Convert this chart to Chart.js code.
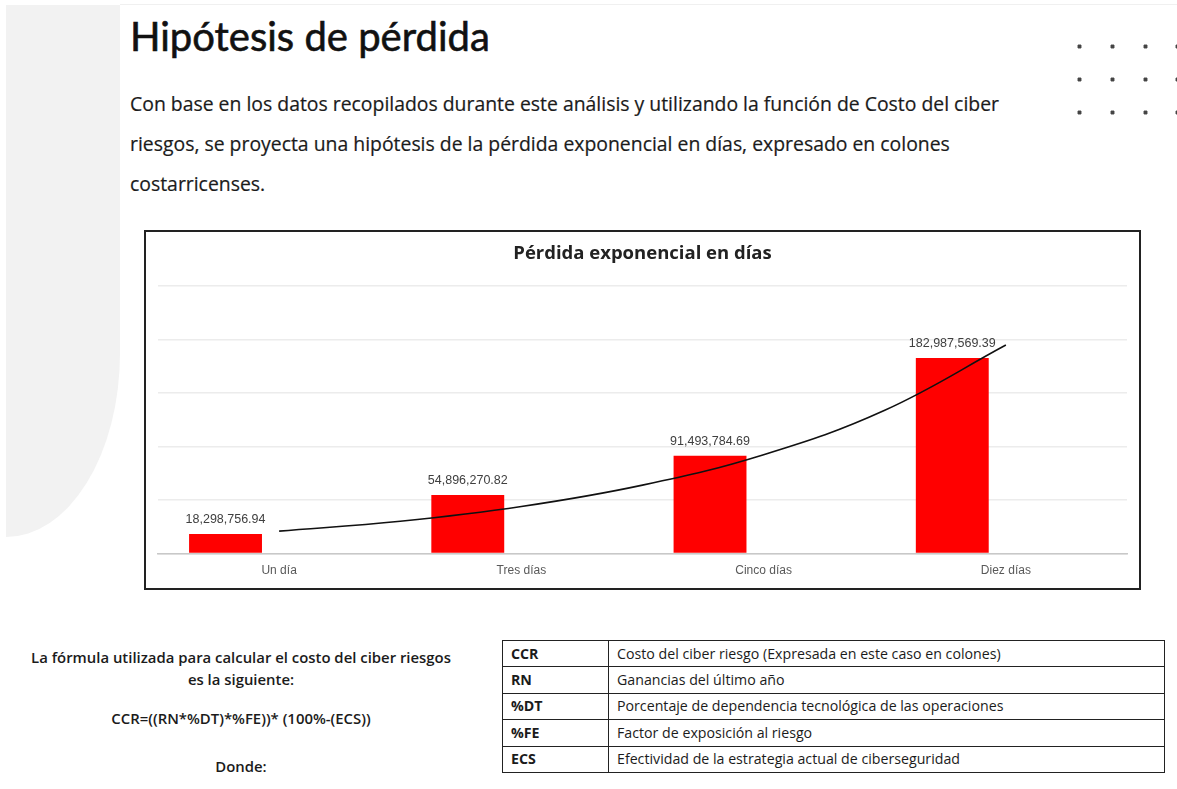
<!DOCTYPE html>
<html lang="es">
<head>
<meta charset="utf-8">
<title>Hipótesis de pérdida</title>
<script src="https://cdn.jsdelivr.net/npm/chart.js@4.4.1/dist/chart.umd.min.js"></script>
<style>
  html, body { margin: 0; padding: 0; background: #fff; }
  body { width: 1177px; height: 789px; position: relative; overflow: hidden; font-family: "Open Sans", Lato, sans-serif; color: #1b1b1b; }
  .side { position: absolute; left: 6px; top: 5px; width: 114px; height: 532px; background: #f2f2f2; border-bottom-right-radius: 114px 184px; }
  .topline { position: absolute; left: 120px; top: 4px; width: 1057px; height: 1px; background: #f0f0f0; }
  h1 { position: absolute; left: 130px; top: 12px; margin: 0; font-family: Lato, sans-serif; font-size: 40px; font-weight: 400; line-height: 48px; color: #111; -webkit-text-stroke: 0.6px #111; }
  .para div { position: absolute; left: 130px; font-size: 19.4px; line-height: 40px; white-space: nowrap; -webkit-text-stroke: 0.2px #1b1b1b; }
  .dot { position: absolute; width: 3px; height: 3px; background: #444; box-shadow: 0 -1px 0 #aaa, 0 1px 0 #aaa, -1px 0 0 #aaa, 1px 0 0 #aaa; }
  .chart-box { position: absolute; left: 144px; top: 230px; width: 993px; height: 356px; border: 2px solid #222; background: #fff; }
  .chart-box canvas { display: block; }
  .formula div { position: absolute; left: 20px; width: 442px; text-align: center; font-size: 14.9px; font-weight: 600; line-height: 20px; white-space: nowrap; }
  table { position: absolute; left: 502px; top: 640px; width: 663px; border-collapse: collapse; font-size: 14.2px; }
  td { border: 1.5px solid #222; height: 25.4px; padding: 0 8px; line-height: 16px; white-space: nowrap; }
  td:first-child { width: 89px; font-weight: 700; }
</style>
</head>
<body>
<div class="side"></div>
<div class="topline"></div>
<div id="dots"></div>

<h1>Hipótesis de pérdida</h1>
<div class="para">
  <div style="top:84px">Con base en los datos recopilados durante este análisis y utilizando la función de Costo del ciber</div>
  <div style="top:124px">riesgos, se proyecta una hipótesis de la pérdida exponencial en días, expresado en colones</div>
  <div style="top:164px">costarricenses.</div>
</div>

<div class="chart-box"><canvas id="lossChart"></canvas></div>

<div class="formula">
  <div style="top:647px">La fórmula utilizada para calcular el costo del ciber riesgos</div>
  <div style="top:669px">es la siguiente:</div>
  <div style="top:708px">CCR=((RN*%DT)*%FE))* (100%-(ECS))</div>
  <div style="top:756px">Donde:</div>
</div>

<table>
  <tr><td>CCR</td><td>Costo del ciber riesgo (Expresada en este caso en colones)</td></tr>
  <tr><td>RN</td><td>Ganancias del último año</td></tr>
  <tr><td>%DT</td><td>Porcentaje de dependencia tecnológica de las operaciones</td></tr>
  <tr><td>%FE</td><td>Factor de exposición al riesgo</td></tr>
  <tr><td>ECS</td><td>Efectividad de la estrategia actual de ciberseguridad</td></tr>
</table>

<script>
const categories   = ['Un día', 'Tres días', 'Cinco días', 'Diez días'];
const lossValues   = [18298756.94, 54896270.82, 91493784.69, 182987569.39];
const emptySeries  = [null, null, null, null];
// exponential trend line at half-category steps
const trendPos     = [0, 0.5, 1, 1.5, 2, 2.5, 3];
const trendValues  = [21.0e6, 30.2e6, 44.0e6, 64.0e6, 92.5e6, 134.0e6, 195.0e6];
const yMax         = 250e6;
const yStep        = 50e6;

// decorative dot grid, top right
const dotsEl = document.getElementById('dots');
[46, 79, 112].forEach(y => {
  [1079, 1112, 1145, 1177].forEach(x => {
    const d = document.createElement('div');
    d.className = 'dot';
    d.style.left = (x - 1) + 'px';
    d.style.top  = (y - 1) + 'px';
    dotsEl.appendChild(d);
  });
});

const fmt = v => v.toLocaleString('en-US', { minimumFractionDigits: 2, maximumFractionDigits: 2 });

const barLabels = {
  id: 'barLabels',
  afterDatasetsDraw(chart) {
    const meta = chart.getDatasetMeta(0);
    const ctx  = chart.ctx;
    ctx.save();
    ctx.font = '12.5px "Liberation Sans", Arial, sans-serif';
    ctx.fillStyle = '#404040';
    ctx.textAlign = 'center';
    ctx.textBaseline = 'middle';
    meta.data.forEach((bar, i) => {
      ctx.fillText(fmt(lossValues[i]), bar.x, bar.y - 14);
    });
    ctx.restore();
  }
};

// bars and trend share one numeric x axis (category index 0..3)
new Chart(document.getElementById('lossChart'), {
  type: 'bar',
  data: {
    datasets: [
      {
        type: 'bar', label: 'Pérdida', order: 1,
        data: lossValues.map((y, i) => ({ x: i, y })),
        backgroundColor: '#ff0000', borderWidth: 0,
        categoryPercentage: 0.885, barPercentage: 0.68
      },
      {
        type: 'bar', label: 'Serie 2', order: 2,
        data: emptySeries.map((y, i) => ({ x: i, y })),
        backgroundColor: '#ff0000',
        categoryPercentage: 0.885, barPercentage: 0.68
      },
      {
        type: 'line', label: 'Tendencia', order: 0,
        data: trendPos.map((x, i) => ({ x, y: trendValues[i] })),
        borderColor: '#111', borderWidth: 1.6, pointRadius: 0, tension: 0.4, fill: false
      }
    ]
  },
  options: {
    responsive: true, maintainAspectRatio: false, animation: false,
    layout: { padding: { left: 12, right: 12, top: 0, bottom: 0 } },
    plugins: {
      legend: { display: false },
      tooltip: { enabled: false },
      title: {
        display: true, text: 'Pérdida exponencial en días', color: '#222',
        font: { family: '"Open Sans"', size: 18.5, weight: 'bold' },
        padding: { top: 11, bottom: 21 }
      }
    },
    scales: {
      x: {
        type: 'linear', min: -0.5, max: 3.5, offset: false,
        afterBuildTicks: axis => { axis.ticks = categories.map((_, i) => ({ value: i })); },
        grid: { display: false, drawTicks: false },
        border: { display: true, color: '#c8c8c8', width: 1.5 },
        ticks: {
          color: '#595959', padding: 10, autoSkip: false, maxRotation: 0,
          font: { family: '"Liberation Sans"', size: 12 },
          callback: v => categories[v] ?? ''
        }
      },
      y: {
        min: 0, max: yMax,
        ticks: { display: false, stepSize: yStep },
        grid: { color: '#ececec', drawTicks: false, lineWidth: 1.5 },
        border: { display: false }
      }
    }
  },
  plugins: [barLabels]
});
</script>
</body>
</html>
